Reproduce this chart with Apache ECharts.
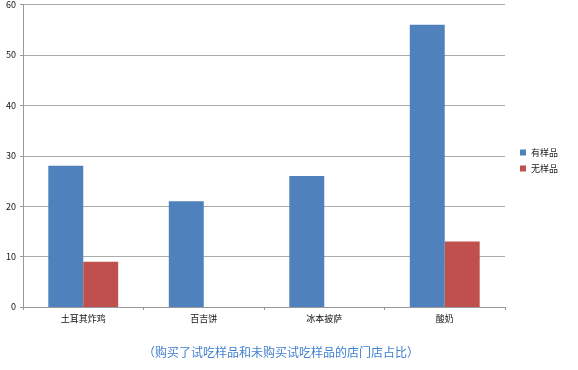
<!DOCTYPE html>
<html><head><meta charset="utf-8">
<script src="https://cdn.jsdelivr.net/npm/echarts@6/dist/echarts.min.js"></script>
<style>html,body{margin:0;padding:0;background:#fff}#c{width:578px;height:370px}</style>
</head><body><div id="c"></div>
<script>
var categories = ['土耳其炸鸡', '百吉饼', '冰本披萨', '酸奶'];
var withSample = [28, 21, 26, 56];
var withoutSample = [9, 0, 0, 13];
var seriesNames = ['有样品', '无样品'];
var titleText = '（购买了试吃样品和未购买试吃样品的店门店占比）';

var chart = echarts.init(document.getElementById('c'));
var font = '"Noto Sans CJK SC", "Microsoft YaHei", sans-serif';
chart.setOption({
  animation: false,
  textStyle: {fontFamily: font},
  title: {text: titleText, left: 138, top: 341, textStyle: {fontSize: 12, fontWeight: 'normal', color: '#3f7fcf', fontFamily: font}},
  legend: {orient: 'vertical', left: 515, top: 143, itemWidth: 6, itemHeight: 6, itemGap: 7, icon: 'rect',
    textStyle: {fontSize: 9, color: '#222', fontFamily: font}, data: seriesNames},
  grid: {left: 23, right: 73, top: 1, bottom: 63, containLabel: false},
  xAxis: {type: 'category', data: categories,
    axisLine: {lineStyle: {color: '#999'}},
    axisTick: {show: true, length: 3, lineStyle: {color: '#999'}},
    axisLabel: {fontSize: 9, color: '#111', margin: 7}},
  yAxis: {type: 'value', min: 0, max: 60, interval: 10,
    axisLine: {show: true, lineStyle: {color: '#999'}},
    axisTick: {show: true, length: 3, lineStyle: {color: '#999'}},
    splitLine: {lineStyle: {color: '#aaa'}},
    axisLabel: {fontSize: 9, color: '#111', margin: 7}},
  series: [
    {name: seriesNames[0], type: 'bar', data: withSample, itemStyle: {color: '#4f81bd'}, barGap: '0%', barCategoryGap: '42%'},
    {name: seriesNames[1], type: 'bar', data: withoutSample, itemStyle: {color: '#c0504d'}, barGap: '0%', barCategoryGap: '42%'}
  ]
});
</script></body></html>
